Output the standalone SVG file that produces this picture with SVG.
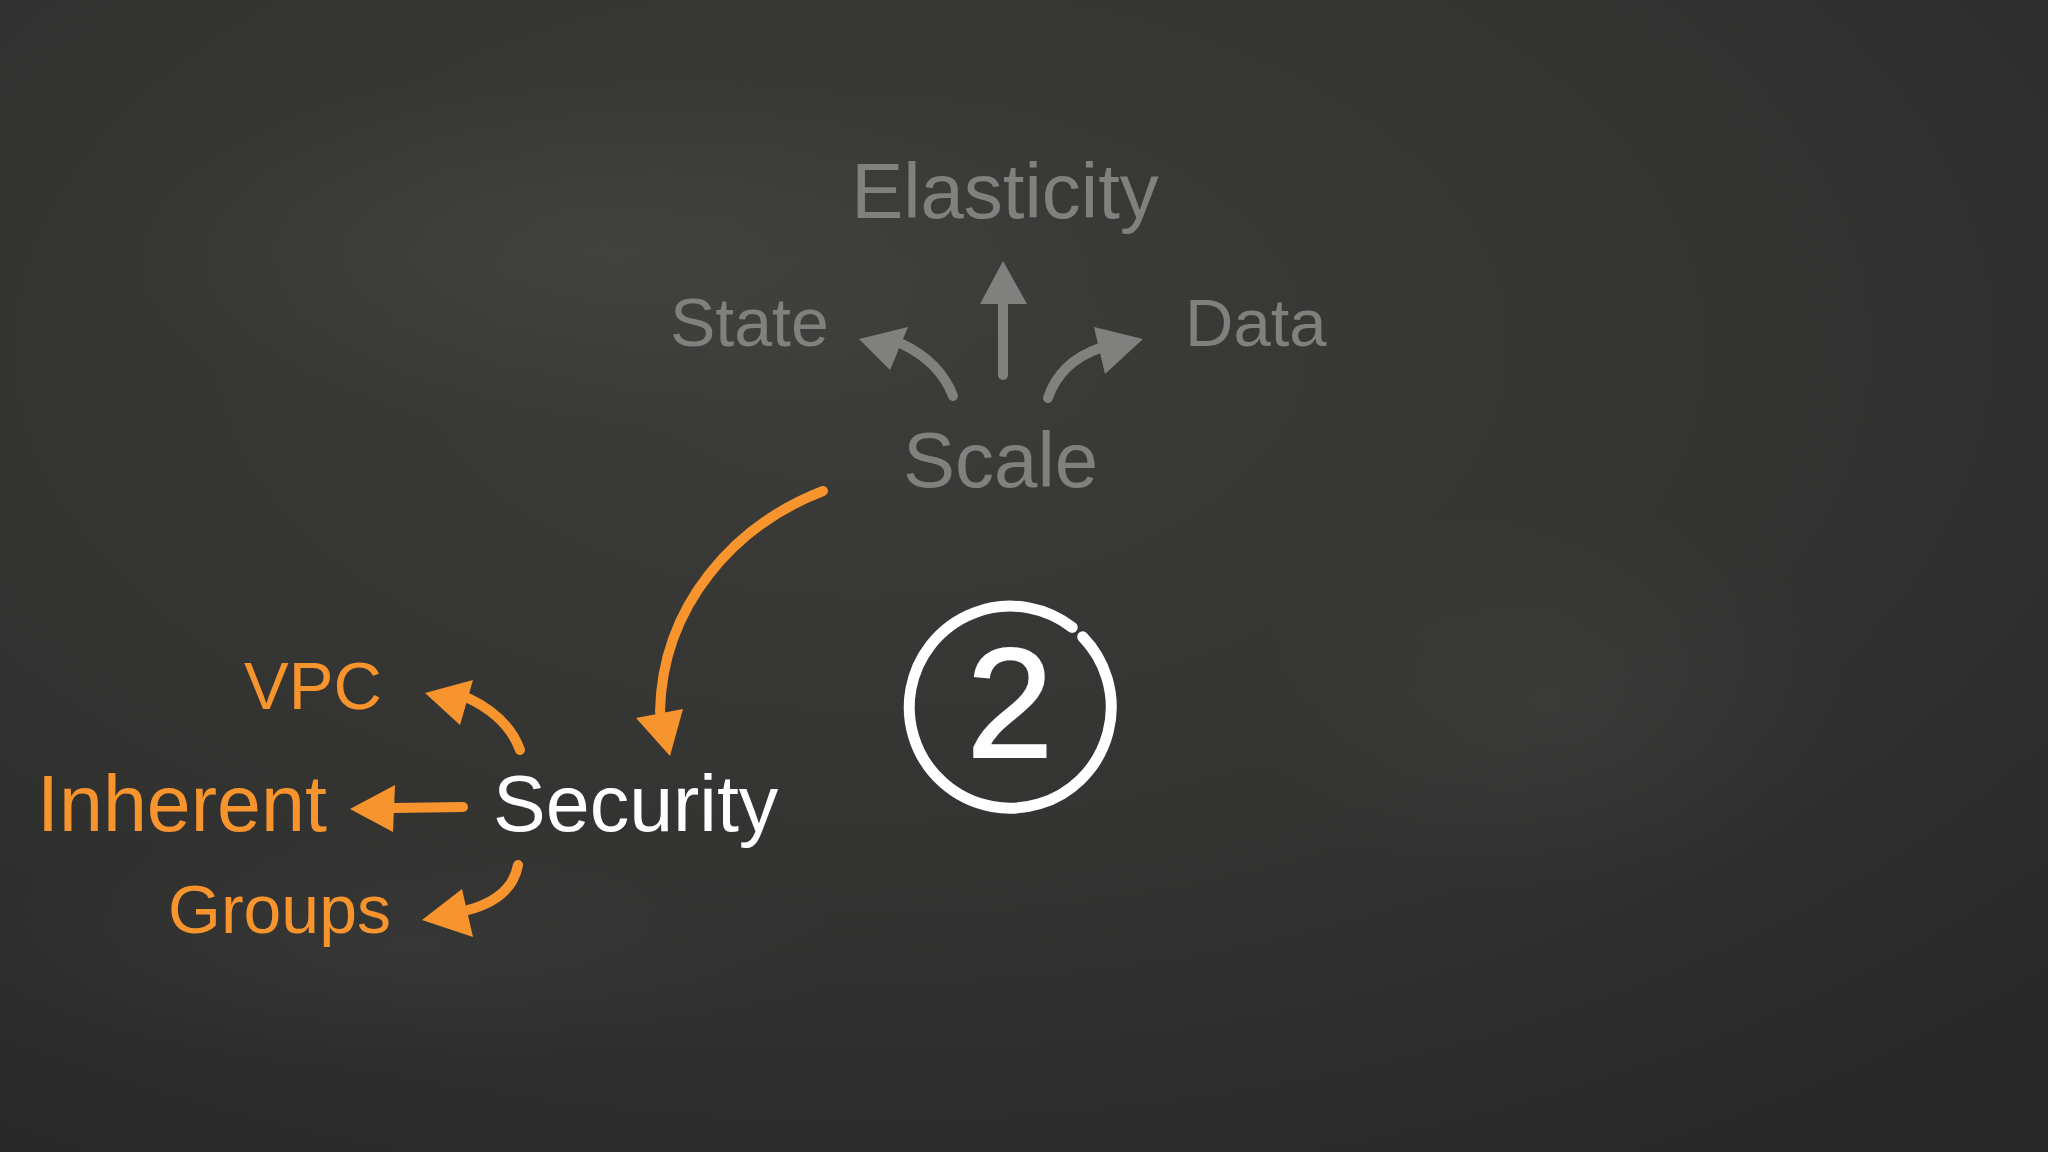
<svg xmlns="http://www.w3.org/2000/svg" width="2048" height="1152" viewBox="0 0 2048 1152">
<defs>
<radialGradient id="bg" cx="0.42" cy="0.3" r="0.85">
<stop offset="0" stop-color="#3c3d3b"/>
<stop offset="0.55" stop-color="#333432"/>
<stop offset="1" stop-color="#262726"/>
</radialGradient>
<radialGradient id="smudge" cx="0.5" cy="0.5" r="0.5">
<stop offset="0" stop-color="#4a4b49" stop-opacity="0.5"/>
<stop offset="1" stop-color="#4a4b49" stop-opacity="0"/>
</radialGradient>
<style>
.t{font-family:"Liberation Sans",Arial,sans-serif}
.gray{fill:#80817e}
.orange{fill:#f7942e}
.white{fill:#ffffff}
.gs{fill:none;stroke:#80817e;stroke-width:10;stroke-linecap:round}
.os{fill:none;stroke:#f7942e;stroke-width:10;stroke-linecap:round}
.gh{fill:#80817e}
.oh{fill:#f7942e}
</style>
</defs>
<rect width="2048" height="1152" fill="url(#bg)"/>
<ellipse cx="600" cy="250" rx="500" ry="180" fill="url(#smudge)"/>
<ellipse cx="1550" cy="700" rx="300" ry="200" fill="url(#smudge)" opacity="0.6"/>
<ellipse cx="400" cy="950" rx="450" ry="120" fill="url(#smudge)" opacity="0.5"/>

<g id="elasticity"><text class="t gray" x="1005" y="218" font-size="78" text-anchor="middle">Elasticity</text></g>
<g id="state"><text class="t gray" x="670" y="346" font-size="68">State</text></g>
<g id="data"><text class="t gray" x="1185" y="346" font-size="67">Data</text></g>
<g id="scale"><text class="t gray" x="903" y="487" font-size="78">Scale</text></g>
<g id="security"><text class="t white" x="493" y="831" font-size="79">Security</text></g>
<g id="vpc"><text class="t orange" x="244" y="709" font-size="67">VPC</text></g>
<g id="inherent"><text class="t orange" x="37" y="831" font-size="79">Inherent</text></g>
<g id="groups"><text class="t orange" x="168" y="933" font-size="68">Groups</text></g>
<g id="badge">
<path d="M 1082.7 636.8 A 101 101 0 1 1 1072.2 627.4" fill="none" stroke="#ffffff" stroke-width="11" stroke-linecap="round"/>
<text class="t white" x="1010" y="757" font-size="156" text-anchor="middle" stroke="#ffffff" stroke-width="2">2</text>
</g>

<g id="connectors">
<path class="gs" d="M 953 396 Q 940 362 902 344"/>
<polygon class="gh" points="859,339 908,327 890,370"/>
<path class="gs" d="M 1003 375 L 1003 300" stroke-width="9"/>
<polygon class="gh" points="1003,261 980,304 1027,304"/>
<path class="gs" d="M 1048 398 Q 1060 362 1100 348"/>
<polygon class="gh" points="1094,327 1143,339 1105,374"/>
<path class="os" d="M 823 491 C 735 525 662 605 660 712" stroke-width="9"/>
<polygon class="oh" points="636,718 683,709 670,756"/>
<path class="os" d="M 520 750 Q 508 717 468 698"/>
<polygon class="oh" points="425,693 473,680 460,725"/>
<path class="os" d="M 463 807 L 392 808"/>
<polygon class="oh" points="350,809 395,785 393,832"/>
<path class="os" d="M 518 865 Q 512 898 468 910"/>
<polygon class="oh" points="422,920 462,889 473,937"/>
</g>
</svg>
